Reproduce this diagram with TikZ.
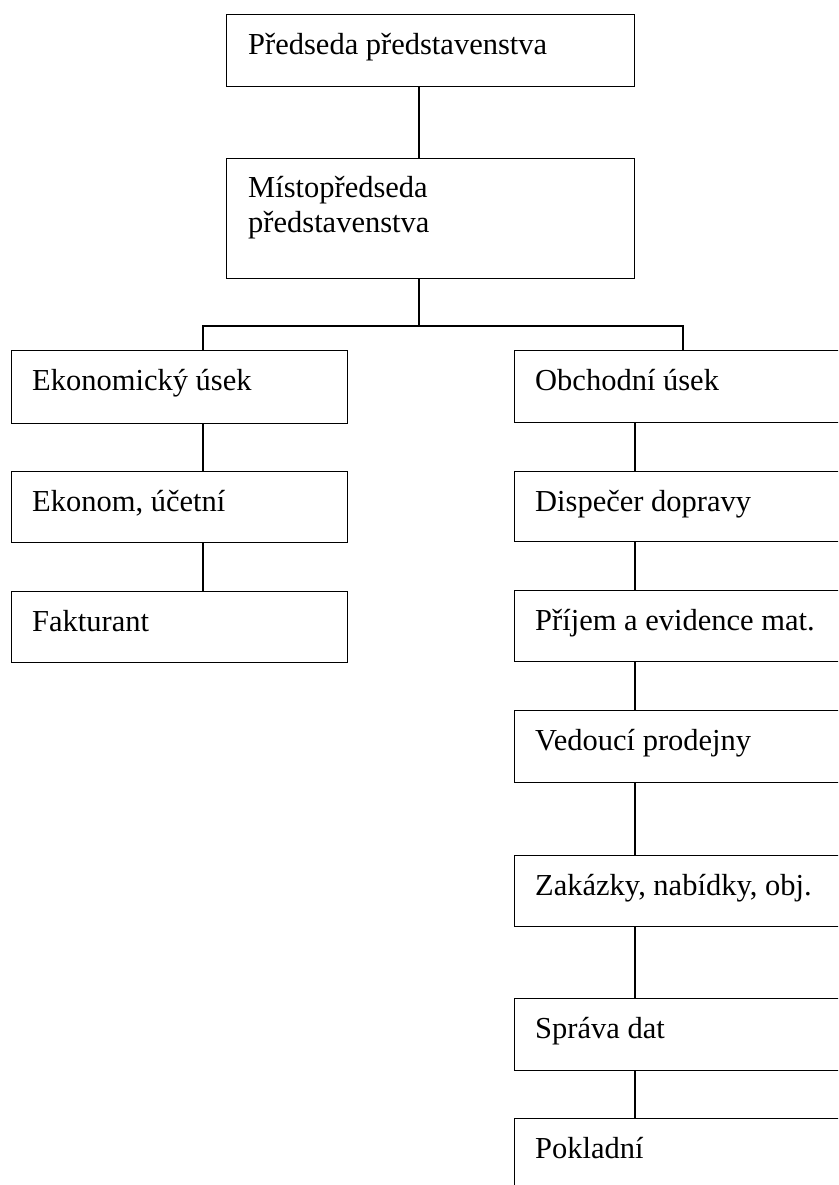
\documentclass[tikz,border=0pt]{standalone}
\usepackage{fontspec}
\setmainfont{Liberation Serif}
\usetikzlibrary{calc}
\begin{document}
\begin{tikzpicture}[x=1pt,y=-1pt,
  box/.style={draw, line width=1.4pt, rectangle, inner sep=0pt, anchor=north west},
  lbl/.style={anchor=base west, inner sep=0pt, font=\fontsize{30.5}{35}\selectfont, align=left},
  wire/.style={line width=1.4pt}]
\useasboundingbox (0,0) rectangle (838,1185);
\fill[white] (0,0) rectangle (838,1185);
\clip (0,0) rectangle (838,1185);

% top management
\node[box, minimum width=408pt, minimum height=72pt] (chair) at (226,14) {};
\node[lbl] at ($(chair.north west)+(22,41)$) {Předseda představenstva};
\node[box, minimum width=408pt, minimum height=120pt] (vice) at (226,158) {};
\node[lbl] at ($(vice.north west)+(22,39)$) {Místopředseda};
\node[lbl] at ($(vice.north west)+(22,74)$) {představenstva};

% economic division
\node[box, minimum width=336pt, minimum height=73pt] (eko) at (11,350) {};
\node[lbl] at ($(eko.north west)+(21,40)$) {Ekonomický úsek};
\node[box, minimum width=336pt, minimum height=71pt] (ucet) at (11,471) {};
\node[lbl] at ($(ucet.north west)+(21,40)$) {Ekonom, účetní};
\node[box, minimum width=336pt, minimum height=71pt] (fakt) at (11,591) {};
\node[lbl] at ($(fakt.north west)+(21,40)$) {Fakturant};

% sales division
\node[box, minimum width=336pt, minimum height=72pt] (obch) at (514,350) {};
\node[lbl] at ($(obch.north west)+(21,40)$) {Obchodní úsek};
\node[box, minimum width=336pt, minimum height=70pt] (disp) at (514,471) {};
\node[lbl] at ($(disp.north west)+(21,40)$) {Dispečer dopravy};
\node[box, minimum width=336pt, minimum height=71pt] (prij) at (514,590) {};
\node[lbl] at ($(prij.north west)+(21,40)$) {Příjem a evidence mat.};
\node[box, minimum width=336pt, minimum height=72pt] (ved) at (514,710) {};
\node[lbl] at ($(ved.north west)+(21,40)$) {Vedoucí prodejny};
\node[box, minimum width=336pt, minimum height=71pt] (zak) at (514,855) {};
\node[lbl] at ($(zak.north west)+(21,40)$) {Zakázky, nabídky, obj.};
\node[box, minimum width=336pt, minimum height=72pt] (sprava) at (514,998) {};
\node[lbl] at ($(sprava.north west)+(21,40)$) {Správa dat};
\node[box, minimum width=336pt, minimum height=72pt] (pokl) at (514,1118) {};
\node[lbl] at ($(pokl.north west)+(21,40)$) {Pokladní};

% connector guides
\coordinate (spine) at (419,0);
\coordinate (bus) at (0,326);
\coordinate (lcol) at (203,0);
\coordinate (rbr) at (683,0);
\coordinate (rcol) at (635,0);

\draw[wire] (chair.south -| spine) -- (vice.north -| spine);
\draw[wire] (vice.south -| spine) -- (bus -| spine);
\draw[wire] (eko.north -| lcol) |- (bus -| rbr) -- (obch.north -| rbr);
\draw[wire] (eko.south -| lcol) -- (ucet.north -| lcol);
\draw[wire] (ucet.south -| lcol) -- (fakt.north -| lcol);
\draw[wire] (obch.south -| rcol) -- (disp.north -| rcol);
\draw[wire] (disp.south -| rcol) -- (prij.north -| rcol);
\draw[wire] (prij.south -| rcol) -- (ved.north -| rcol);
\draw[wire] (ved.south -| rcol) -- (zak.north -| rcol);
\draw[wire] (zak.south -| rcol) -- (sprava.north -| rcol);
\draw[wire] (sprava.south -| rcol) -- (pokl.north -| rcol);
\end{tikzpicture}
\end{document}
